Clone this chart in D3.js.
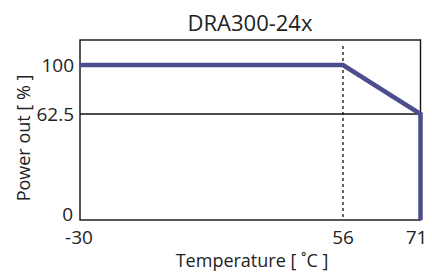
<!DOCTYPE html>
<html>
<head>
<meta charset="utf-8">
<script src="https://cdn.jsdelivr.net/npm/d3@7"></script>
<style>
  body { margin: 0; background: #fff; }
  text { font-family: "Open Sans", "DejaVu Sans", sans-serif; fill: #222; }
</style>
</head>
<body>
<div class="canvas"></div>
<script>
// derating curve
const temps = [-30, 56, 71, 71];
const power = [100, 100, 62.5, 0];
const xTicks = [-30, 56, 71];
const yTicks = [0, 62.5, 100];

const svg = d3.select(".canvas")
    .append("svg")
    .attr("width", 432)
    .attr("height", 273);

const frame = {left: 80, right: 420.5, top: 40, bottom: 220};

// the original axes are not linear, so map piecewise through the tick values
const x = d3.scaleLinear()
    .domain([-30, 56, 71])
    .range([frame.left, 343, frame.right]);
const y = d3.scaleLinear()
    .domain([0, 62.5, 100])
    .range([frame.bottom, 114, 65]);

// 62.5 reference line
svg.append("line")
    .attr("x1", frame.left).attr("x2", frame.right)
    .attr("y1", y(62.5)).attr("y2", y(62.5))
    .attr("stroke", "#111").attr("stroke-width", 1.3);

// dotted marker at 56
svg.append("line")
    .attr("x1", x(56)).attr("x2", x(56))
    .attr("y1", frame.top + 6).attr("y2", frame.bottom)
    .attr("stroke", "#111").attr("stroke-width", 1.3)
    .attr("stroke-dasharray", "3,3");

// frame
svg.append("rect")
    .attr("x", frame.left).attr("y", frame.top)
    .attr("width", frame.right - frame.left)
    .attr("height", frame.bottom - frame.top)
    .attr("fill", "none")
    .attr("stroke", "#111").attr("stroke-width", 1.4);

const line = d3.line()
    .x((d, i) => x(temps[i]))
    .y(d => y(d));

svg.append("path")
    .datum(power)
    .attr("d", line)
    .attr("fill", "none")
    .attr("stroke", "#4b4d8c")
    .attr("stroke-width", 4.5)
    .attr("stroke-linejoin", "miter");

// tick labels
svg.selectAll("text.ytick")
    .data(yTicks)
    .enter().append("text")
    .attr("class", "ytick")
    .attr("x", d => d === 0 ? 73 : 74)
    .attr("y", d => d === 0 ? 221 : y(d))
    .attr("dy", d => d === 0 ? "0" : "0.35em")
    .attr("text-anchor", "end")
    .style("font-size", "19px")
    .text(d => d);

svg.selectAll("text.xtick")
    .data(xTicks)
    .enter().append("text")
    .attr("class", "xtick")
    .attr("x", d => d === -30 ? x(d) - 1 : d === 71 ? x(d) - 4 : x(d))
    .attr("y", 244)
    .attr("text-anchor", "middle")
    .style("font-size", "19px")
    .text(d => d);

svg.append("text")
    .attr("x", 250).attr("y", 31)
    .attr("text-anchor", "middle")
    .style("font-size", "22px")
    .text("DRA300-24x");

svg.append("text")
    .attr("x", 252).attr("y", 267)
    .attr("text-anchor", "middle")
    .style("font-size", "18px")
    .text("Temperature [ ˚C ]");

svg.append("text")
    .attr("transform", "translate(30,138) rotate(-90)")
    .attr("text-anchor", "middle")
    .style("font-size", "18px")
    .text("Power out [ % ]");
</script>
</body>
</html>
